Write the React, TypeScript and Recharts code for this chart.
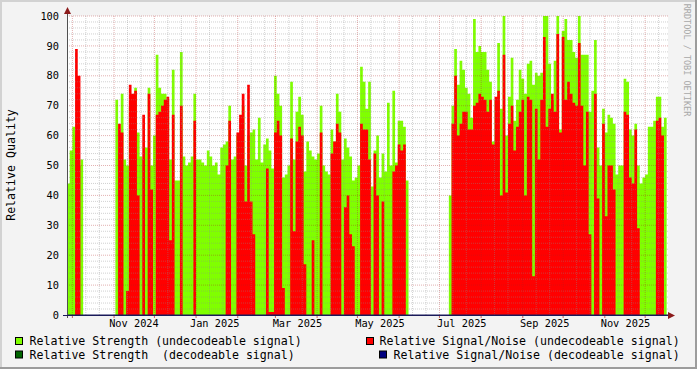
import React from 'react';
import { ComposedChart, Area, XAxis, YAxis, ReferenceLine, CartesianGrid } from 'recharts';

// Day offsets are counted from 2024-10-01; each value covers STEP_DAYS days.
const START_DAY = -4;
const STEP_DAYS = 2;
const DOMAIN_END = 443;

const strengthUndecodeable = [
  44, 55, 63, 60, 50, 52,
  0, 0, 0, 0, 0, 0, 0, 0, 0, 0, 0, 0,
  72, 54, 74, 52, 50, 70, 72, 76, 61, 53, 52, 56,
  76, 50, 60, 87, 76, 74, 74, 72, 52, 82,
  45, 45, 88, 53, 50, 51, 53, 74, 52, 52,
  51, 50, 55, 53, 50, 51, 47, 56, 57, 58,
  70, 52, 53, 60, 60, 70, 50, 60, 61, 62,
  52, 66, 51, 57, 59, 55, 49, 80, 74, 70,
  46, 47, 50, 78, 52, 68, 73, 67, 48, 58,
  55, 53, 52, 54, 70, 50, 48, 47, 62, 58,
  74, 68, 52, 59, 56, 53, 45, 46, 50, 83,
  78, 69, 78, 43, 55, 60, 46, 54, 48, 71,
  50, 75, 51, 65, 65, 63, 45,
  0, 0, 0, 0, 0, 0, 0, 0, 0, 0, 0, 0, 0, 0, 0,
  40, 70, 89, 77, 85, 82, 76, 74,
  66, 99, 88, 90, 88, 88, 82, 78, 58, 72,
  91, 69, 100, 60, 73, 86, 65, 72, 82, 79,
  74, 84, 85, 77, 81, 80, 81, 100, 100, 84,
  72, 85, 100, 62, 95, 99, 92, 92, 88, 86,
  100, 87, 87, 87, 68, 75, 92, 56, 50, 69,
  61, 67, 66, 64, 47, 50, 50, 79, 78, 62,
  60, 64, 50, 44, 46, 47, 63, 63, 65, 73,
  73, 63, 66, 0,
];

const snrUndecodeable = [
  0, 0, 0, 89, 80, 0,
  0, 0, 0, 0, 0, 0, 0, 0, 0, 0, 0, 0,
  0, 64, 61, 0, 8, 77, 74, 75, 40, 0, 67, 0,
  74, 42, 0, 67, 68, 70, 72, 73, 25, 67,
  0, 0, 70, 0, 0, 0, 0, 65, 0, 0,
  0, 0, 0, 0, 0, 0, 0, 0, 0, 50,
  65, 0, 0, 61, 67, 74, 38, 77, 38, 27,
  0, 0, 0, 0, 49, 1, 1, 61, 65, 60,
  9, 0, 0, 59, 28, 58, 63, 60, 17, 0,
  0, 25, 0, 0, 61, 0, 0, 0, 54, 58,
  64, 61, 0, 36, 40, 27, 23, 0, 0, 64,
  62, 62, 52, 0, 54, 40, 0, 38, 0, 0,
  0, 48, 50, 57, 55, 57, 0,
  0, 0, 0, 0, 0, 0, 0, 0, 0, 0, 0, 0, 0, 0, 0,
  0, 64, 80, 60, 64, 68, 68, 62,
  62, 70, 71, 74, 73, 72, 68, 72, 57, 73,
  75, 40, 87, 41, 64, 70, 55, 63, 68, 72,
  40, 73, 72, 13, 69, 52, 72, 93, 63, 69,
  74, 68, 94, 61, 93, 72, 78, 74, 71, 70,
  91, 70, 50, 68, 27, 0, 74, 39, 0, 64,
  33, 50, 50, 42, 0, 0, 0, 68, 67, 46,
  44, 62, 29, 0, 0, 0, 0, 0, 0, 65,
  66, 60, 0, 0,
];

const monthStartDays = [0, 31, 61, 92, 123, 151, 182, 212, 243, 273, 304, 335, 365, 396, 426];
const monthLabelDays = [45.8, 105.9, 167.4, 228.8, 289.6, 351.3, 411.4];
const monthLabels = ['Nov 2024', 'Jan 2025', 'Mar 2025', 'May 2025', 'Jul 2025', 'Sep 2025', 'Nov 2025'];
const yTicks = [0, 10, 20, 30, 40, 50, 60, 70, 80, 90, 100];

const legendItems = [
  { label: 'Relative Strength (undecodeable signal)', color: '#80FF00' },
  { label: 'Relative Signal/Noise (undecodeable signal)', color: '#FF0000' },
  { label: 'Relative Strength  (decodeable signal)', color: '#006400' },
  { label: 'Relative Signal/Noise (decodeable signal)', color: '#000080' },
];

const MONO = "'DejaVu Sans Mono', monospace";

const rows = strengthUndecodeable.map((g, i) => ({
  d: START_DAY + i * STEP_DAYS,
  g,
  r: snrUndecodeable[i],
}));

const minorY: number[] = [];
for (let v = 2; v < 100; v += 2) if (v % 10 !== 0) minorY.push(v);
const majorY = yTicks.filter((v) => v > 0);
const minorX: number[] = [];
[-30, ...monthStartDays].forEach((s) => {
  [s + 10, s + 20].forEach((m) => {
    if (m > START_DAY && m < DOMAIN_END) minorX.push(m);
  });
});
const majorX = monthStartDays;

export default function App() {
  return (
    <div style={{ position: 'absolute', left: 0, top: 0, width: 697, height: 369, background: '#F3F3F3', overflow: 'hidden' }}>
      <ComposedChart
        width={697}
        height={369}
        data={rows}
        margin={{ top: 16, right: 29, bottom: 0, left: 0 }}
      >
        <CartesianGrid fill="#FFFFFF" fillOpacity={1} horizontal={false} vertical={false} stroke="none" />
        <XAxis
          type="number"
          dataKey="d"
          domain={[START_DAY, DOMAIN_END]}
          allowDataOverflow
          ticks={monthLabelDays}
          interval={0}
          tickFormatter={(v: number) => monthLabels[monthLabelDays.indexOf(v)] ?? ''}
          height={54}
          axisLine={false}
          tickLine={false}
          tickSize={3}
          tickMargin={2}
          tick={{ fill: '#000', fontSize: 10.3, fontFamily: MONO }}
        />
        <YAxis
          type="number"
          domain={[0, 100]}
          ticks={yTicks}
          interval={0}
          width={67}
          axisLine={false}
          tickLine={false}
          tickSize={6}
          tickMargin={2}
          tick={{ fill: '#000', fontSize: 10.3, fontFamily: MONO }}
        />
        <Area
          type="stepAfter"
          dataKey="g"
          fill="#80FF00"
          fillOpacity={1}
          stroke="none"
          dot={false}
          activeDot={false}
          isAnimationActive={false}
        />
        <Area
          type="stepAfter"
          dataKey="r"
          fill="#FF0000"
          fillOpacity={1}
          stroke="none"
          dot={false}
          activeDot={false}
          isAnimationActive={false}
        />
        {minorY.map((v) => (
          <ReferenceLine key={'my' + v} y={v} stroke="#8C8C8C" strokeOpacity={0.4} strokeDasharray="1 1" />
        ))}
        {minorX.map((v) => (
          <ReferenceLine key={'mx' + v} x={v} stroke="#8C8C8C" strokeOpacity={0.4} strokeDasharray="1 1" />
        ))}
        {majorY.map((v) => (
          <ReferenceLine key={'My' + v} y={v} stroke="#B02020" strokeOpacity={0.35} strokeDasharray="1 1" />
        ))}
        {majorX.map((v) => (
          <ReferenceLine key={'Mx' + v} x={v} stroke="#B02020" strokeOpacity={0.35} strokeDasharray="1 1" />
        ))}
        {majorX.map((v) => (
          <ReferenceLine
            key={'tk' + v}
            segment={[{ x: v, y: 0 }, { x: v, y: -1 }]}
            ifOverflow="visible"
            stroke="#C06060"
          />
        ))}
        <ReferenceLine y={0} stroke="#1A1A5A" strokeWidth={1} />
      </ComposedChart>
      <svg
        width={697}
        height={369}
        style={{ position: 'absolute', left: 0, top: 0, pointerEvents: 'none' }}
      >
        <line x1={1} y1={0} x2={1} y2={369} stroke="#D2D2D2" strokeWidth={2} />
        <line x1={0} y1={1} x2={697} y2={1} stroke="#D2D2D2" strokeWidth={2} />
        <line x1={696} y1={0} x2={696} y2={369} stroke="#9C9C9C" strokeWidth={2} />
        <line x1={0} y1={368} x2={697} y2={368} stroke="#9C9C9C" strokeWidth={2} />
        <line x1={67.5} y1={12} x2={67.5} y2={318} stroke="#505050" strokeWidth={1} />
        <line x1={63} y1={315.5} x2={670} y2={315.5} stroke="#1A1A5A" strokeWidth={1} />
        <polygon points="67.5,7 64,14 71,14" fill="#8B1A1A" />
        <polygon points="675,315.5 668,312 668,319" fill="#8B1A1A" />
        <text
          x={15}
          y={165}
          transform="rotate(-90 15 165)"
          textAnchor="middle"
          fontFamily={MONO}
          fontSize={11.6}
          fill="#000"
        >
          Relative Quality
        </text>
        <text
          x={684}
          y={60}
          transform="rotate(90 684 60)"
          textAnchor="middle"
          fontFamily={MONO}
          fontSize={8.5}
          fill="#A8A8A8"
        >
          RRDTOOL / TOBI OETIKER
        </text>
        {legendItems.map((it, i) => {
          const col = i % 2;
          const row = Math.floor(i / 2);
          const boxX = col === 0 ? 15.5 : i === 1 ? 366.5 : 379.5;
          const textX = col === 0 ? 29.5 : i === 1 ? 379.5 : 393.5;
          const baseY = row === 0 ? 345 : 358.5;
          return (
            <g key={it.label}>
              <rect x={boxX} y={baseY - 7.5} width={7} height={7} fill={it.color} stroke="#000" strokeWidth={1} />
              <text
                x={textX}
                y={baseY}
                fontFamily={MONO}
                fontSize={11.6}
                fill="#000"
                style={{ whiteSpace: 'pre' }}
              >
                {it.label}
              </text>
            </g>
          );
        })}
      </svg>
    </div>
  );
}
